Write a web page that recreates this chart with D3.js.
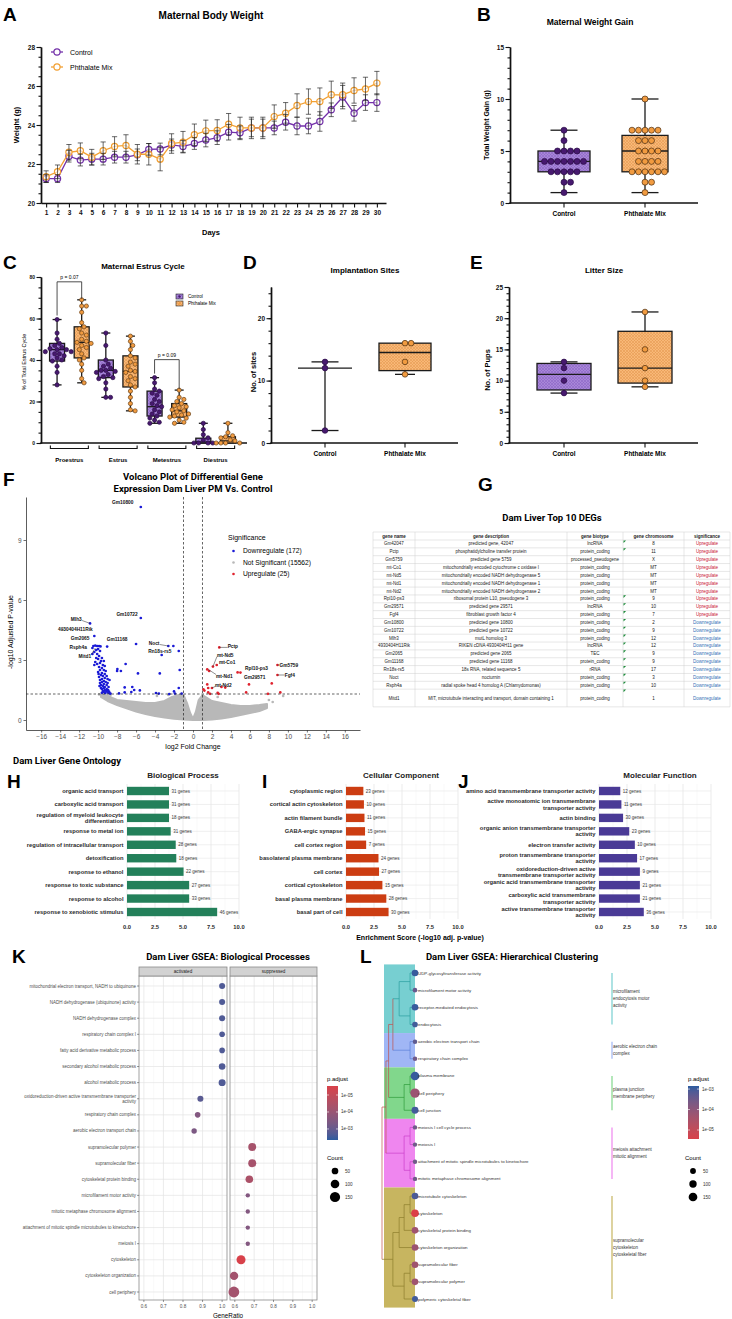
<!DOCTYPE html>
<html>
<head>
<meta charset="utf-8">
<script src="https://cdn.jsdelivr.net/npm/d3@7/dist/d3.min.js"></script>
<style>
  body { margin: 0; background: #fff; }
  svg { display: block; }
</style>
</head>
<body>
<div id="fig"></div>
<script>
// ---------- data ----------

// A: maternal body weight (mean and sem per day)
var days = [1,2,3,4,5,6,7,8,9,10,11,12,13,14,15,16,17,18,19,20,21,22,23,24,25,26,27,28,29,30];
var ctrlWeight = [21.25,21.25,22.4,22.2,22.25,22.25,22.35,22.35,22.47,22.75,22.77,22.98,22.9,23.05,23.23,23.35,23.63,23.6,23.85,23.85,23.85,24.14,23.95,23.95,24.18,24.78,25.43,24.6,25.15,25.15];
var ctrlSem = [0.2,0.2,0.3,0.3,0.3,0.3,0.3,0.3,0.3,0.3,0.3,0.3,0.3,0.3,0.35,0.35,0.4,0.35,0.45,0.45,0.35,0.4,0.45,0.4,0.5,0.35,0.6,0.4,0.4,0.45];
var pmWeight = [21.35,21.6,22.6,22.68,22.35,22.68,22.9,22.95,22.5,22.5,22.25,23.05,23.12,23.5,23.7,23.72,24.04,23.85,23.85,23.85,24.43,24.6,25.0,25.2,25.2,25.55,25.55,25.77,25.85,26.15];
var pmSem = [0.3,0.35,0.4,0.4,0.4,0.45,0.5,0.55,0.5,0.55,0.6,0.5,0.55,0.55,0.55,0.55,0.55,0.55,0.55,0.55,0.6,0.55,0.6,0.65,0.7,0.7,0.6,0.65,0.6,0.6];

// B: weight gain
var groups = ['Control', 'Phthalate Mix'];
var gainCtrl = [7,6,5,5,5,5,4,4,4,4,4,4,4,3,3,3,3,3,2,2,1];
var gainPm = [10,7,7,7,7,7,6,6,6,5,5,5,5,4,4,4,4,3,3,3,3,3,3,2,2,1];
var gainBoxCtrl = [1,3,4,5,7];      // min, q1, median, q3, max
var gainBoxPm = [1,3,5,6.5,10];

// C: estrus cycle
var phases = ['Proestrus', 'Estrus', 'Metestrus', 'Diestrus'];
var estrusCtrl = [
  [59.5,53,50,48,47,46,45.5,45,45,44,44,43,43,42,41,40,39.5,37,34,28],
  [53,47,40,38,37,36,35,35,34.5,34,33,32,31.5,31,29,26,22,22],
  [31.5,29,26,25,24,23,21,20,19,18,17.5,16,15,14,13,12,11,10,9.5],
  [9.5,6.5,4,2.5,1.5,0,0,0,0]
];
var estrusPm = [
  [69,66,66,63,58,56,55,53,52,50,49,48.5,48,47,46,45,43,41,40,38,35,31,29],
  [51.5,49,47,45,42,41,39,38,37,35,34.5,34,32,31,30,28,27,25,22,19,16,15.5],
  [25.5,22,21,20,19,18,17.5,17,16,15.5,15,14,13.5,13,12.5,12,11,10,9.5],
  [9.5,5,3.5,3,2.5,1.5,1,0,0,0,0]
];
var estrusBoxCtrl = [[28,39.5,45,48,59.5],[22,31.5,35,40,53],[9.5,13,17.5,25,31.5],[0,0,0.5,2.3,9.5]];
var estrusBoxPm = [[29,41,48.5,56,69],[15.5,27,34.5,42,51.5],[9.5,12.5,15.5,19,25.5],[0,0,1,3,9.5]];
var pLabels = [['p = 0.07', 0], ['p = 0.09', 2]];

// D: implantation sites, E: litter size
var implCtrl = [13,12,2];
var implPm = [16,16,13,11];
var implBoxCtrl = [2,2,12,13,13];
var implBoxPm = [11,11.6,14.5,16,16];
var pupsCtrl = [13,12,10,8];
var pupsPm = [21,15,12,10,9];
var pupsBoxCtrl = [8,8.5,11,12.75,13];
var pupsBoxPm = [9,9.6,12,17.9,21];

// F: volcano plot
var downPts = [[-5.5,10.65],[-5.5,5.1],[-10.85,4.83],[-10.4,4.2],[-6.0,3.8],[-9.05,3.67],[-2.6,3.7],[-2.07,3.7],
  [-3.3,3.25],[-1.5,3.45],[-7.1,2.8],[-7.97,2.55],[-8.0,2.45],[-7.6,2.45],[-5.8,2.33],[-3.5,2.33],[-1.4,2.5],
  [-8.8,2.0],[-7.2,1.63],[-6.4,1.65],[-6.2,1.5],[-7.8,1.33],[-7.2,1.38],[-6.5,1.4],[-5.6,1.48],[-3.9,1.35],
  [-3.6,1.32],[-2.5,1.3],[-2.0,1.43],[-1.9,1.32],[-1.5,1.6],[-1.2,1.32],
  [-10.5,3.7],[-10.3,3.72],[-10.1,3.7],[-9.9,3.7],[-9.75,3.68],[-10.0,3.55],[-10.2,3.5],[-9.8,3.45],[-10.4,3.4],
  [-10.6,3.3],[-10.1,3.3],[-9.9,3.2],[-9.6,3.1],[-10.0,3.05],[-9.7,2.95],[-9.4,2.95],[-9.8,2.85],[-10.1,2.8],
  [-9.5,2.75],[-9.3,2.7],[-9.9,2.65],[-9.6,2.6],[-9.8,2.5],[-9.4,2.5],[-9.2,2.45],[-10.0,2.4],[-9.6,2.35],
  [-9.3,2.3],[-9.7,2.25],[-9.5,2.2],[-9.1,2.2],[-9.9,2.15],[-9.3,2.1],[-9.6,2.05],[-9.0,2.05],[-9.8,2.0],
  [-9.4,1.95],[-9.2,1.9],[-9.6,1.9],[-9.0,1.85],[-9.8,1.85],[-9.4,1.8],[-9.7,1.75],[-9.1,1.75],[-9.5,1.7],
  [-9.3,1.65],[-8.9,1.65],[-9.7,1.6],[-9.4,1.6],[-9.1,1.55],[-9.6,1.55],[-8.95,1.5],[-9.3,1.5],[-9.5,1.45],
  [-9.15,1.45],[-8.85,1.42],[-9.4,1.4],[-9.0,1.38],[-9.25,1.35],[-8.8,1.34],[-9.6,1.36],[-8.7,1.32],
  [-10.4,2.75],[-10.2,3.1],[-10.6,3.6],[-10.3,2.9],[-9.95,2.3],[-9.85,1.7]];
var upPts = [[2.77,3.63],[2.1,2.67],[2.5,2.75],[1.5,2.53],[1.7,2.45],[4.7,2.38],[5.0,2.37],[8.9,2.75],[8.9,2.25],
  [5.9,1.78],[8.3,1.83],[3.4,1.62],[3.0,1.65],[1.5,1.78],[1.6,1.6],[1.1,1.53],[1.2,1.47],[2.0,1.6],[1.6,1.38],
  [2.6,1.36],[2.7,1.31],[5.6,1.38],[7.9,1.31],[9.2,1.38],[1.8,1.31]];
var nsUpper = [[-9.7,1.25],[-9.2,1.25],[-8.5,1.1],[-8,1.0],[-7,0.95],[-6,0.9],[-5,0.85],[-4,0.85],[-3,0.95],
  [-2.2,1.15],[-1.5,1.25],[-1.0,1.25],[-0.6,0.8],[-0.3,0.35],[0,0.05],[0.3,0.4],[0.6,1.0],[1.0,1.25],
  [1.5,1.1],[2,0.95],[3,0.85],[4,0.75],[5,0.7],[6,0.7],[7,0.75],[7.8,0.8]];
var nsLower = [[7.8,0.6],[7,0.45],[6,0.35],[5,0.25],[4,0.15],[3,0.08],[2,0.03],[1,0.0],[0,0],[-1,0.02],
  [-2,0.06],[-3,0.12],[-4,0.2],[-5,0.3],[-6,0.42],[-7,0.58],[-8,0.75],[-9,0.95],[-9.7,1.15]];
var nsPts = [[9.5,1.2],[-9.9,1.28],[8.0,1.0],[-8.7,1.25],[2.6,1.15],[-3.8,1.2],[-2.6,1.25],[8.4,0.9],[-8.9,1.15]];
var sigNames = ['Downregulate (172)', 'Not Significant (15562)', 'Upregulate (25)'];
// label text, label x, label y, point x, point y, draw segment
var volcanoLabels = [
  ['Gm10800',-7.4,10.9,-5.5,10.65,0],['Gm10722',-6.95,5.3,-5.5,5.1,0],['Mlh3',-12.3,5.05,-10.85,4.83,1],
  ['4930404H11Rik',-12.4,4.55,-10.5,4.4,0],['Gm2065',-11.9,4.1,-10.4,4.2,0],['Gm11168',-8.0,4.05,-6.0,3.8,0],
  ['Rsph4a',-12.1,3.65,-10.5,3.7,0],['Mitd1',-11.4,3.2,-10.3,3.6,1],['Noct',-4.1,3.85,-2.6,3.7,1],
  ['Rn18s-rs5',-3.5,3.45,-3.3,3.25,0],['Pctp',4.2,3.7,2.77,3.63,1],['mt-Nd5',3.4,3.25,2.1,2.67,1],
  ['mt-Co1',3.6,2.9,2.5,2.75,0],['Rpl10-ps3',6.7,2.6,4.7,2.38,0],['Gm5759',10.1,2.75,8.9,2.75,1],
  ['Fgf4',10.2,2.25,8.9,2.25,1],['Gm29571',6.5,2.15,5.2,2.3,0],['mt-Nd1',3.3,2.2,1.6,2.53,1],
  ['mt-Nd2',3.2,1.75,2.0,1.6,1]];

// G: top DEGs table
var degName = ['Gm42047','Pctp','Gm5759','mt-Co1','mt-Nd5','mt-Nd1','mt-Nd2','Rpl10-ps3','Gm29571','Fgf4','Gm10800','Gm10722','Mlh3','4930404H11Rik','Gm2065','Gm11168','Rn18s-rs5','Noct','Rsph4a','Mitd1'];
var degDesc = ['predicted gene, 42047','phosphatidylcholine transfer protein','predicted gene 5759','mitochondrially encoded cytochrome c oxidase I','mitochondrially encoded NADH dehydrogenase 5','mitochondrially encoded NADH dehydrogenase 1','mitochondrially encoded NADH dehydrogenase 2','ribosomal protein L10, pseudogene 3','predicted gene 29571','fibroblast growth factor 4','predicted gene 10800','predicted gene 10722','mutL homolog 3','RIKEN cDNA 4930404H11 gene','predicted gene 2065','predicted gene 11168','18s RNA, related sequence 5','nocturnin','radial spoke head 4 homolog A (Chlamydomonas)','MIT, microtubule interacting and transport, domain containing 1'];
var degType = ['lncRNA','protein_coding','processed_pseudogene','protein_coding','protein_coding','protein_coding','protein_coding','protein_coding','lncRNA','protein_coding','protein_coding','protein_coding','protein_coding','lncRNA','TEC','protein_coding','rRNA','protein_coding','protein_coding','protein_coding'];
var degChr = ['8','11','X','MT','MT','MT','MT','9','10','7','2','9','12','12','9','9','17','3','10','1'];
var degSig = ['Upregulate','Upregulate','Upregulate','Upregulate','Upregulate','Upregulate','Upregulate','Upregulate','Upregulate','Upregulate','Downregulate','Downregulate','Downregulate','Downregulate','Downregulate','Downregulate','Downregulate','Downregulate','Downregulate','Downregulate'];
var tableHeaders = ['gene name','gene description','gene biotype','gene chromosome','significance'];

// H, I, J: gene ontology enrichment
var bpTerms = ['organic acid transport','carboxylic acid transport','regulation of myeloid leukocyte\ndifferentiation','response to metal ion','regulation of intracellular transport','detoxification','response to ethanol','response to toxic substance','response to alcohol','response to xenobiotic stimulus'];
var bpScore = [3.75,3.75,3.75,3.9,4.35,4.4,5.05,5.55,5.55,8.05];
var bpGenes = [31,31,18,31,28,18,22,27,33,46];
var ccTerms = ['cytoplasmic region','cortical actin cytoskeleton','actin filament bundle','GABA-ergic synapse','cell cortex region','basolateral plasma membrane','cell cortex','cortical cytoskeleton','basal plasma membrane','basal part of cell'];
var ccScore = [1.55,1.6,1.65,1.7,1.8,2.9,2.95,3.25,3.6,3.8];
var ccGenes = [23,10,11,15,7,24,27,15,28,30];
var mfTerms = ['amino acid transmembrane transporter activity','active monoatomic ion transmembrane\ntransporter activity','actin binding','organic anion transmembrane transporter\nactivity','electron transfer activity','proton transmembrane transporter\nactivity','oxidoreduction-driven active\ntransmembrane transporter activity','organic acid transmembrane transporter\nactivity','carboxylic acid transmembrane\ntransporter activity','active transmembrane transporter\nactivity'];
var mfScore = [1.9,2.0,2.15,2.7,3.2,3.4,3.65,3.65,3.65,4.0];
var mfGenes = [12,11,30,23,10,17,9,21,21,36];
var goTicks = [0, 2.5, 5, 7.5, 10];

// K: GSEA dot plot
var kTerms = ['mitochondrial electron transport, NADH to ubiquinone','NADH dehydrogenase (ubiquinone) activity','NADH dehydrogenase complex','respiratory chain complex I','fatty acid derivative metabolic process','secondary alcohol metabolic process','alcohol metabolic process','oxidoreduction-driven active transmembrane transporter\nactivity','respiratory chain complex','aerobic electron transport chain','supramolecular polymer','supramolecular fiber','cytoskeletal protein binding','microfilament motor activity','mitotic metaphase chromosome alignment','attachment of mitotic spindle microtubules to kinetochore','meiosis I','cytoskeleton','cytoskeleton organization','cell periphery'];
var kFacet = ['activated','activated','activated','activated','activated','activated','activated','activated','activated','activated','suppressed','suppressed','suppressed','suppressed','suppressed','suppressed','suppressed','suppressed','suppressed','suppressed'];
var kRatio = [1,1,1,1,1,1,1,0.889,0.875,0.857,0.69,0.69,0.675,0.667,0.667,0.667,0.667,0.632,0.596,0.595];
var kCount = [36,36,36,28,28,48,57,36,28,24,82,82,72,8,8,8,8,111,93,170];
var kPadj = [2e-3,2e-3,2e-3,2e-3,2e-3,2e-3,2e-3,1.5e-3,3e-4,4e-4,5e-5,5e-5,4e-5,3e-4,3e-4,3e-4,3e-4,3e-6,6e-5,6e-5];
var ratioTicks = [0.6, 0.7, 0.8, 0.9, 1.0];

// L: hierarchical clustering of GSEA terms
var lTerms = ['UDP-glycosyltransferase activity','microfilament motor activity','receptor-mediated endocytosis','endocytosis','aerobic electron transport chain','respiratory chain complex','plasma membrane','cell periphery','cell junction','meiosis I cell cycle process','meiosis I','attachment of mitotic spindle microtubules to kinetochore','mitotic metaphase chromosome alignment','microtubule cytoskeleton','cytoskeleton','cytoskeletal protein binding','cytoskeleton organization','supramolecular fiber','supramolecular polymer','polymeric cytoskeletal fiber'];
var lCount = [73,19,73,45,17,17,146,181,86,15,15,15,15,73,107,73,73,73,73,55];
var lPadj = [1.2e-3,4e-4,1.2e-3,1e-3,5e-4,3e-4,1.2e-3,6e-5,1e-3,3e-4,3e-4,3e-4,3e-4,8e-4,3e-6,5e-5,6e-5,5e-5,5e-5,1e-3];
var lCluster = [0,0,0,0,1,1,2,2,2,3,3,3,3,4,4,4,4,4,4,4];
var lClusterNames = [['microfilament','endocytosis motor','activity'],['aerobic electron chain','complex'],['plasma junction','membrane periphery'],['meiosis attachment','mitotic alignment'],['supramolecular','cytoskeleton','cytoskeletal fiber']];
// merges: left, right, height
var lMerge = [['l0','l1',0.15],['l2','l3',0.15],['m0','m1',0.48],['l4','l5',0.15],['m2','m3',0.67],
  ['l6','l7',0.15],['m5','l8',0.33],['m4','m6',0.80],['l9','l10',0.15],['l11','l12',0.15],['m8','m9',0.33],
  ['m7','m10',0.88],['l13','l14',0.15],['m12','l15',0.33],['m13','l16',0.48],['l17','l18',0.15],
  ['m15','l19',0.33],['m14','m16',0.67],['m11','m17',1.0]];
var countLegend = [50, 100, 150];

// ---------- setup ----------
var FONT = '"Liberation Sans", Arial, Helvetica, sans-serif';
var ROBOTO = 'Roboto, "Liberation Sans", Arial, sans-serif';
var purple = '#7331a9', orange = '#f2a033';
var dotPurple = '#47196f', dotOrange = '#f19b40';
var RED = '#d8414a', BLUE = '#2d5c9f';

var svg = d3.select('#fig').append('svg')
  .attr('width', 732).attr('height', 1319)
  .attr('font-family', FONT);
svg.append('rect').attr('width', 732).attr('height', 1319).attr('fill', '#fff');
var defs = svg.append('defs');

function hatch(id, base, line) {
  var p = defs.append('pattern').attr('id', id).attr('patternUnits', 'userSpaceOnUse')
    .attr('width', 3).attr('height', 3);
  p.append('rect').attr('width', 3).attr('height', 3).attr('fill', base);
  p.append('path').attr('d', 'M0,0L3,3M3,0L0,3').attr('stroke', line).attr('stroke-width', 0.6);
}
hatch('hatchP', '#a886d8', '#8c67c6');
hatch('hatchO', '#f8b877', '#e69a52');

function addText(g, x, y, s, size, o) {
  o = o || {};
  var t = g.append('text').attr('x', x).attr('y', y)
    .attr('font-size', size)
    .attr('font-weight', o.weight || 'normal')
    .attr('text-anchor', o.anchor || 'start')
    .attr('fill', o.fill || '#000')
    .text(s);
  if (o.base) t.attr('dominant-baseline', o.base);
  if (o.family) t.attr('font-family', o.family);
  if (o.rotate) t.attr('transform', 'rotate(' + o.rotate + ',' + x + ',' + y + ')');
  return t;
}

function multiLine(g, x, yc, s, size, lh, o) {
  var lines = s.split('\n');
  lines.forEach(function (ln, i) {
    addText(g, x, yc + (i - (lines.length - 1) / 2) * lh, ln, size, Object.assign({ base: 'central' }, o));
  });
}

function styleAxis(a, size, weight, color) {
  a.attr('font-family', FONT).attr('font-size', size).attr('font-weight', weight || 'bold');
  a.select('.domain').attr('stroke', color || '#111').attr('stroke-width', 1.4);
  a.selectAll('.tick line').attr('stroke', color || '#111').attr('stroke-width', 1.1);
  a.selectAll('.tick text').attr('fill', '#111');
}

function prismAxisY(g, y, x, major, minor, size) {
  var m = g.append('g').attr('transform', 'translate(' + x + ',0)')
    .call(d3.axisLeft(y).tickValues(minor).tickSize(2.5).tickSizeOuter(0).tickFormat(''));
  styleAxis(m, size);
  var a = g.append('g').attr('transform', 'translate(' + x + ',0)')
    .call(d3.axisLeft(y).tickValues(major).tickSize(4.5).tickSizeOuter(0).tickPadding(1.5));
  styleAxis(a, size);
}

function catAxisX(g, yPix, x0, x1, xs, size) {
  g.append('line').attr('x1', x0 - 0.7).attr('x2', x1).attr('y1', yPix).attr('y2', yPix)
    .attr('stroke', '#111').attr('stroke-width', 1.4);
  xs.domain().forEach(function (d) {
    g.append('line').attr('x1', xs(d)).attr('x2', xs(d)).attr('y1', yPix).attr('y2', yPix + 4.5)
      .attr('stroke', '#111').attr('stroke-width', 1.1);
    addText(g, xs(d), yPix + 13, d, size, { weight: 'bold', anchor: 'middle' });
  });
}

// box: st = [min, q1, median, q3, max]
function drawBox(g, y, cx, w, capW, st, fill, noBox) {
  var s = '#1b1b1b', sw = 1.3;
  g.append('line').attr('x1', cx).attr('x2', cx).attr('y1', y(st[0])).attr('y2', y(st[4]))
    .attr('stroke', s).attr('stroke-width', sw);
  if (noBox || st[0] < st[1]) {
    g.append('line').attr('x1', cx - capW / 2).attr('x2', cx + capW / 2).attr('y1', y(st[0])).attr('y2', y(st[0]))
      .attr('stroke', s).attr('stroke-width', sw);
  }
  if (noBox || st[4] > st[3]) {
    g.append('line').attr('x1', cx - capW / 2).attr('x2', cx + capW / 2).attr('y1', y(st[4])).attr('y2', y(st[4]))
      .attr('stroke', s).attr('stroke-width', sw);
  }
  if (!noBox) {
    g.append('rect').attr('x', cx - w / 2).attr('y', y(st[3])).attr('width', w)
      .attr('height', y(st[1]) - y(st[3])).attr('fill', 'url(#' + fill + ')')
      .attr('stroke', s).attr('stroke-width', sw);
  }
  g.append('line').attr('x1', cx - w / 2).attr('x2', cx + w / 2).attr('y1', y(st[2])).attr('y2', y(st[2]))
    .attr('stroke', s).attr('stroke-width', sw);
}

// simple deterministic beeswarm
function swarm(vals, y, r) {
  var pts = vals.map(function (v) { return { v: v, py: y(v), dx: 0 }; });
  pts.sort(function (a, b) { return a.py - b.py; });
  var placed = [], d = 2 * r + 0.5;
  pts.forEach(function (p) {
    for (var k = 0; k < 60; k++) {
      var off = (k % 2 ? 1 : -1) * Math.ceil(k / 2) * d / 2;
      var ok = placed.every(function (q) {
        var dx = q.dx - off, dy = q.py - p.py;
        return dx * dx + dy * dy >= d * d * 0.92;
      });
      if (ok) { p.dx = off; break; }
    }
    placed.push(p);
  });
  return pts;
}

function drawDots(g, y, cx, vals, r, fill, stroke) {
  g.selectAll(null).data(swarm(vals, y, r)).enter().append('circle')
    .attr('cx', function (p) { return cx + p.dx; })
    .attr('cy', function (p) { return p.py; })
    .attr('r', r).attr('fill', fill).attr('stroke', stroke).attr('stroke-width', 0.7);
}

function letter(s, x, y) {
  addText(svg, x, y, s, 19, { weight: 'bold' });
}

// ---------- A: maternal body weight ----------
var gA = svg.append('g');
var ax = d3.scaleLinear().domain([0.55, 30.8]).range([41, 386]);
var ay = d3.scaleLinear().domain([20, 28]).range([203, 47]);
letter('A', 3, 21);
addText(gA, 211, 19, 'Maternal Body Weight', 10, { weight: 'bold', anchor: 'middle' });
prismAxisY(gA, ay, 41, [20, 22, 24, 26, 28], d3.range(20, 28.01, 0.5), 6.5);
var axX = gA.append('g').attr('transform', 'translate(0,203)')
  .call(d3.axisBottom(ax).tickValues(days).tickSize(4.5).tickSizeOuter(0).tickPadding(2.5));
styleAxis(axX, 6.5);
addText(gA, 19, 125, 'Weight (g)', 7.5, { weight: 'bold', anchor: 'middle', rotate: -90 });
addText(gA, 211, 235, 'Days', 7.5, { weight: 'bold', anchor: 'middle' });

var series = [
  { name: 'Control', mean: ctrlWeight, sem: ctrlSem, color: purple },
  { name: 'Phthalate Mix', mean: pmWeight, sem: pmSem, color: orange }
];
var wLine = d3.line().x(function (d, i) { return ax(days[i]); }).y(function (d) { return ay(d); });
series.forEach(function (s) {
  gA.append('path').datum(s.mean).attr('d', wLine).attr('fill', 'none')
    .attr('stroke', s.color).attr('stroke-width', 1.3);
  gA.selectAll(null).data(s.mean).enter().append('circle')
    .attr('cx', function (d, i) { return ax(days[i]); })
    .attr('cy', function (d) { return ay(d); })
    .attr('r', 3.1).attr('fill', '#fff').attr('fill-opacity', 0.6)
    .attr('stroke', s.color).attr('stroke-width', 1.2);
});
series.forEach(function (s) {
  s.mean.forEach(function (m, i) {
    var x = ax(days[i]), y1 = ay(m - s.sem[i]), y2 = ay(m + s.sem[i]);
    gA.append('path').attr('d', 'M' + x + ',' + y1 + 'V' + y2 + 'M' + (x - 2.6) + ',' + y1 + 'h5.2M' + (x - 2.6) + ',' + y2 + 'h5.2')
      .attr('stroke', '#222').attr('stroke-width', 0.85).attr('fill', 'none').attr('opacity', 0.8);
  });
});
series.forEach(function (s, i) {
  var y = 52 + i * 15;
  gA.append('line').attr('x1', 51).attr('x2', 63).attr('y1', y).attr('y2', y).attr('stroke', s.color).attr('stroke-width', 1.3);
  gA.append('circle').attr('cx', 57).attr('cy', y).attr('r', 3.1).attr('fill', '#fff').attr('stroke', s.color).attr('stroke-width', 1.2);
  addText(gA, 70, y + 2.5, s.name, 7);
});

// ---------- B: weight gain ----------
var gB = svg.append('g');
var by = d3.scaleLinear().domain([0, 15]).range([203, 47]);
var bx = d3.scalePoint().domain(groups).range([564, 645]);
letter('B', 477, 21);
addText(gB, 590, 25, 'Maternal Weight Gain', 8.5, { weight: 'bold', anchor: 'middle' });
prismAxisY(gB, by, 510, [0, 5, 10, 15], d3.range(0, 15.01, 1), 6.5);
catAxisX(gB, 203, 510, 698, bx, 6.5);
addText(gB, 489, 125, 'Total Weight Gain (g)', 7, { weight: 'bold', anchor: 'middle', rotate: -90 });
drawBox(gB, by, bx('Control'), 52, 27, gainBoxCtrl, 'hatchP');
drawBox(gB, by, bx('Phthalate Mix'), 46, 27, gainBoxPm, 'hatchO');
drawDots(gB, by, bx('Control'), gainCtrl, 3, dotPurple, '#2a0b45');
drawDots(gB, by, bx('Phthalate Mix'), gainPm, 3, dotOrange, '#4a2c10');

// ---------- C: estrus cycle ----------
var gC = svg.append('g');
var cy = d3.scaleLinear().domain([0, 80]).range([443, 277]);
var cBand = d3.scaleBand().domain(phases).range([45, 240]);
letter('C', 3, 269);
addText(gC, 143, 269, 'Maternal Estrus Cycle', 8, { weight: 'bold', anchor: 'middle' });
prismAxisY(gC, cy, 41, [0, 20, 40, 60, 80], d3.range(0, 80.1, 5), 5);
gC.append('line').attr('x1', 40.3).attr('x2', 247).attr('y1', 443).attr('y2', 443).attr('stroke', '#111').attr('stroke-width', 1.4);
addText(gC, 26, 362, '% of Total Estrus Cycle', 5.5, { anchor: 'middle', rotate: -90 });
phases.forEach(function (p, i) {
  var c = cBand(p) + cBand.bandwidth() / 2;
  drawBox(gC, cy, c - 12.3, 15, 9, estrusBoxCtrl[i], 'hatchP');
  drawBox(gC, cy, c + 12.3, 15, 9, estrusBoxPm[i], 'hatchO');
  drawDots(gC, cy, c - 12.3, estrusCtrl[i], 2.1, dotPurple, '#2a0b45');
  drawDots(gC, cy, c + 12.3, estrusPm[i], 2.1, dotOrange, '#6a4218');
  gC.append('path').attr('d', 'M' + (c - 19) + ',445.5V448.5H' + (c + 19) + 'V445.5')
    .attr('fill', 'none').attr('stroke', '#111').attr('stroke-width', 1.1);
  addText(gC, c, 462, p, 6, { weight: 'bold', anchor: 'middle' });
});
pLabels.forEach(function (pl) {
  var i = pl[1], c = cBand(phases[i]) + cBand.bandwidth() / 2;
  var top = cy(Math.max(estrusBoxCtrl[i][4], estrusBoxPm[i][4])) - 18;
  gC.append('path').attr('d', 'M' + (c - 12.3) + ',' + (cy(estrusBoxCtrl[i][4]) - 4) + 'V' + top + 'H' + (c + 12.3) + 'V' + (cy(estrusBoxPm[i][4]) - 1))
    .attr('fill', 'none').attr('stroke', '#222').attr('stroke-width', 0.8);
  addText(gC, c, top - 3, pl[0], 5, { anchor: 'middle' });
});
groups.forEach(function (gname, i) {
  var y = 294 + i * 7;
  gC.append('rect').attr('x', 176).attr('y', y).attr('width', 7).attr('height', 5)
    .attr('fill', i ? 'url(#hatchO)' : 'url(#hatchP)').attr('stroke', '#222').attr('stroke-width', 0.6);
  gC.append('circle').attr('cx', 179.5).attr('cy', y + 2.5).attr('r', 1.2).attr('fill', i ? dotOrange : dotPurple);
  addText(gC, 188, y + 4.3, gname, 4.6);
});

// ---------- D: implantation sites ----------
var gD = svg.append('g');
var dy = d3.scaleLinear().domain([0, 25]).range([443, 287]);
var dx = d3.scalePoint().domain(groups).range([325, 405]);
letter('D', 243, 269);
addText(gD, 365, 273, 'Implantation Sites', 8, { weight: 'bold', anchor: 'middle' });
prismAxisY(gD, dy, 271, [0, 10, 20], d3.range(0, 25, 2), 6.5);
catAxisX(gD, 443, 271, 458, dx, 6.5);
addText(gD, 256, 372, 'No. of sites', 7.5, { weight: 'bold', anchor: 'middle', rotate: -90 });
drawBox(gD, dy, dx('Control'), 54, 27, implBoxCtrl, 'hatchP', true);
drawBox(gD, dy, dx('Phthalate Mix'), 52, 20, implBoxPm, 'hatchO');
drawDots(gD, dy, dx('Control'), implCtrl, 2.8, dotPurple, '#2a0b45');
drawDots(gD, dy, dx('Phthalate Mix'), implPm, 2.8, dotOrange, '#4a2c10');

// ---------- E: litter size ----------
var gE = svg.append('g');
var ey = d3.scaleLinear().domain([0, 25]).range([443, 287]);
var ex = d3.scalePoint().domain(groups).range([564, 645]);
letter('E', 470, 269);
addText(gE, 604, 273, 'Litter Size', 8, { weight: 'bold', anchor: 'middle' });
prismAxisY(gE, ey, 509, [0, 5, 10, 15, 20, 25], d3.range(0, 25.01, 1), 6.5);
catAxisX(gE, 443, 509, 698, ex, 6.5);
addText(gE, 490, 370, 'No. of Pups', 7.5, { weight: 'bold', anchor: 'middle', rotate: -90 });
drawBox(gE, ey, ex('Control'), 54, 27, pupsBoxCtrl, 'hatchP');
drawBox(gE, ey, ex('Phthalate Mix'), 54, 27, pupsBoxPm, 'hatchO');
drawDots(gE, ey, ex('Control'), pupsCtrl, 2.8, dotPurple, '#2a0b45');
drawDots(gE, ey, ex('Phthalate Mix'), pupsPm, 2.8, dotOrange, '#4a2c10');

// ---------- F: volcano ----------
var gF = svg.append('g');
var vx = d3.scaleLinear().domain([-17.6, 17.6]).range([26, 360]);
var vy = d3.scaleLinear().domain([-0.5, 11.15]).range([730, 497]);
letter('F', 3, 486);
addText(gF, 193, 480, 'Volcano Plot of Differential Gene', 9.5, { weight: 'bold', anchor: 'middle', family: ROBOTO });
addText(gF, 193, 492, 'Expression Dam Liver PM Vs. Control', 9.5, { weight: 'bold', anchor: 'middle', family: ROBOTO });
var vline = d3.line().x(function (d) { return vx(d[0]); }).y(function (d) { return vy(d[1]); }).curve(d3.curveLinearClosed);
gF.append('path').datum(nsUpper.concat(nsLower)).attr('d', vline)
  .attr('fill', '#b8b8b8').attr('stroke', '#b8b8b8').attr('stroke-width', 2).attr('stroke-linejoin', 'round');
function vDots(pts, col) {
  gF.selectAll(null).data(pts).enter().append('circle')
    .attr('cx', function (d) { return vx(d[0]); }).attr('cy', function (d) { return vy(d[1]); })
    .attr('r', 1.35).attr('fill', col);
}
vDots(nsPts, '#b8b8b8');
vDots(downPts, '#1a1ad6');
vDots(upPts, '#e0222e');
[-1, 1].forEach(function (v) {
  gF.append('line').attr('x1', vx(v)).attr('x2', vx(v)).attr('y1', 497).attr('y2', 730)
    .attr('stroke', '#222').attr('stroke-width', 0.7).attr('stroke-dasharray', '2.5,2');
});
gF.append('line').attr('x1', 26).attr('x2', 360).attr('y1', vy(1.3)).attr('y2', vy(1.3))
  .attr('stroke', '#222').attr('stroke-width', 0.7).attr('stroke-dasharray', '2.5,2');
var fyAx = gF.append('g').attr('transform', 'translate(26,0)')
  .call(d3.axisLeft(vy).tickValues([0, 3, 6, 9]).tickSize(2.5).tickSizeOuter(0).tickPadding(2));
var fxAx = gF.append('g').attr('transform', 'translate(0,730)')
  .call(d3.axisBottom(vx).tickValues(d3.range(-16, 16.1, 2)).tickSize(2.5).tickSizeOuter(0).tickPadding(2));
[fyAx, fxAx].forEach(function (a) {
  a.attr('font-family', FONT).attr('font-size', 6.5);
  a.select('.domain').attr('stroke', '#333').attr('stroke-width', 0.8);
  a.selectAll('.tick line').attr('stroke', '#333').attr('stroke-width', 0.7);
  a.selectAll('.tick text').attr('fill', '#4d4d4d');
});
addText(gF, 193, 749, 'log2 Fold Change', 7, { anchor: 'middle' });
addText(gF, 13, 632, '-log10 Adjusted P-value', 7, { anchor: 'middle', rotate: -90 });
addText(gF, 228, 540, 'Significance', 7);
['#1a1ad6', '#b8b8b8', '#e0222e'].forEach(function (c, i) {
  var y = 551 + i * 11.5;
  gF.append('circle').attr('cx', 233.5).attr('cy', y).attr('r', 1.3).attr('fill', c);
  addText(gF, 243, y + 2.3, sigNames[i], 6.7);
});
volcanoLabels.forEach(function (l) {
  var t = addText(gF, vx(l[1]), vy(l[2]), l[0], 4.8, { weight: 'bold', anchor: 'middle', base: 'central', fill: '#111' });
  if (l[5]) {
    var bb = t.node().getBBox();
    var px = vx(l[3]), py = vy(l[4]);
    var sx = Math.max(bb.x, Math.min(px, bb.x + bb.width));
    var sy = Math.max(bb.y + 1, Math.min(py, bb.y + bb.height - 1));
    gF.append('line').attr('x1', sx).attr('y1', sy).attr('x2', px).attr('y2', py)
      .attr('stroke', '#222').attr('stroke-width', 0.5);
  }
});

// ---------- G: table ----------
var gG = svg.append('g');
letter('G', 478, 491);
addText(gG, 552, 521, 'Dam Liver Top 10 DEGs', 9.5, { weight: 'bold', anchor: 'middle', family: ROBOTO });
var colX = [373, 415, 567, 623, 684, 730];
var rowEdges = [532, 540];
degName.forEach(function (d, i) { rowEdges.push(rowEdges[rowEdges.length - 1] + (i === degName.length - 1 ? 17.7 : 7.85)); });
rowEdges.forEach(function (y) {
  gG.append('line').attr('x1', colX[0]).attr('x2', colX[5]).attr('y1', y).attr('y2', y).attr('stroke', '#cfcfcf').attr('stroke-width', 0.5);
});
colX.forEach(function (x) {
  gG.append('line').attr('x1', x).attr('x2', x).attr('y1', rowEdges[0]).attr('y2', rowEdges[rowEdges.length - 1]).attr('stroke', '#cfcfcf').attr('stroke-width', 0.5);
});
function cellMid(c) { return (colX[c] + colX[c + 1]) / 2; }
tableHeaders.forEach(function (h, c) {
  addText(gG, cellMid(c), 536.2, h, 4.5, { weight: 'bold', anchor: 'middle', base: 'central', fill: '#222' });
});
degName.forEach(function (n, i) {
  var yc = (rowEdges[i + 1] + rowEdges[i + 2]) / 2;
  var cells = [n, degDesc[i], degType[i], degChr[i], degSig[i]];
  cells.forEach(function (s, c) {
    var col = '#222';
    if (c === 4) col = s === 'Upregulate' ? '#c8102e' : '#2f6db5';
    addText(gG, cellMid(c), yc, s, 4.5, { anchor: 'middle', base: 'central', fill: col });
  });
  if (/^\d+$/.test(degChr[i])) {
    var t = rowEdges[i + 1] + 0.4;
    gG.append('path').attr('d', 'M' + (colX[3] + 0.5) + ',' + t + 'h2.6L' + (colX[3] + 0.5) + ',' + (t + 2.6) + 'Z').attr('fill', '#1d8a3a');
  }
});

// ---------- H, I, J: GO bars ----------
addText(svg, 13, 764, 'Dam Liver Gene Ontology', 9.5, { weight: 'bold', family: ROBOTO });
letter('H', 7, 788);
letter('I', 262, 788);
letter('J', 458, 788);
function goPanel(terms, scores, genes, x0, color, title, titleX) {
  var g = svg.append('g');
  var x = d3.scaleLinear().domain([0, 10]).range([x0, x0 + 112]);
  var y = d3.scalePoint().domain(d3.range(terms.length)).range([791, 912]);
  d3.range(0, 10.01, 1.25).forEach(function (v, i) {
    g.append('line').attr('x1', x(v)).attr('x2', x(v)).attr('y1', 784).attr('y2', 919)
      .attr('stroke', i % 2 ? '#f2f2f2' : '#e3e3e3').attr('stroke-width', i % 2 ? 0.5 : 0.7);
  });
  terms.forEach(function (t, i) {
    g.append('line').attr('x1', x0).attr('x2', x0 + 112).attr('y1', y(i)).attr('y2', y(i)).attr('stroke', '#e6e6e6').attr('stroke-width', 0.6);
  });
  g.selectAll(null).data(scores).enter().append('rect')
    .attr('x', x(0)).attr('y', function (d, i) { return y(i) - 4.2; })
    .attr('width', function (d) { return x(d) - x(0); }).attr('height', 8.4)
    .attr('fill', color);
  terms.forEach(function (t, i) {
    multiLine(g, x0 - 3.5, y(i), t, 5.8, 6.2, { weight: 'bold', anchor: 'end', fill: '#2b2b2b' });
    addText(g, x(scores[i]) + 2.5, y(i), genes[i] + ' genes', 4.5, { base: 'central', fill: '#3a3a3a' });
  });
  goTicks.forEach(function (v) {
    addText(g, x(v), 929, d3.format('.1f')(v), 5.8, { weight: 'bold', anchor: 'middle', fill: '#2b2b2b' });
  });
  addText(g, titleX, 778, title, 8, { weight: 'bold', anchor: 'middle', fill: '#222' });
}
goPanel(bpTerms, bpScore, bpGenes, 127, '#23805a', 'Biological Process', 183);
goPanel(ccTerms, ccScore, ccGenes, 346, '#cc3d12', 'Cellular Component', 401);
goPanel(mfTerms, mfScore, mfGenes, 599, '#4a3a96', 'Molecular Function', 660);
addText(svg, 420, 940, 'Enrichment Score (-log10 adj. p-value)', 7, { weight: 'bold', anchor: 'middle' });

// ---------- K: GSEA dot plot ----------
var gK = svg.append('g');
letter('K', 12, 963);
addText(gK, 228, 960, 'Dam Liver GSEA: Biological Processes', 9.5, { weight: 'bold', anchor: 'middle', family: ROBOTO });
var kColor = d3.scaleLinear().domain([-5.53, -2.35]).range([RED, BLUE]).interpolate(d3.interpolateLab);
var kSize = d3.scaleLinear().domain([8, 170]).range([2.2 * 2.2, 5.4 * 5.4]);
var ky = d3.scalePoint().domain(d3.range(kTerms.length)).range([986, 1292]);
var facets = [
  { name: 'activated', x: d3.scaleLinear().domain([0.575, 1.025]).range([139, 227]) },
  { name: 'suppressed', x: d3.scaleLinear().domain([0.575, 1.025]).range([230, 317]) }
];
facets.forEach(function (f) {
  var r = f.x.range();
  gK.append('rect').attr('x', r[0]).attr('y', 976).attr('width', r[1] - r[0]).attr('height', 324).attr('fill', '#fff');
  [0.625, 0.65, 0.675, 0.7, 0.725, 0.75, 0.775, 0.8, 0.825, 0.85, 0.875, 0.9, 0.925, 0.95, 0.975, 1.0].forEach(function (v) {
    var major = ratioTicks.some(function (t) { return Math.abs(t - v) < 1e-6; });
    var mid = Math.abs((v * 20) - Math.round(v * 20)) < 1e-6;
    if (!major && !mid) return;
    gK.append('line').attr('x1', f.x(v)).attr('x2', f.x(v)).attr('y1', 976).attr('y2', 1300)
      .attr('stroke', major ? '#e4e4e4' : '#f2f2f2').attr('stroke-width', major ? 0.7 : 0.5);
  });
  gK.append('line').attr('x1', f.x(0.6)).attr('x2', f.x(0.6)).attr('y1', 976).attr('y2', 1300).attr('stroke', '#e4e4e4').attr('stroke-width', 0.7);
  kTerms.forEach(function (t, i) {
    gK.append('line').attr('x1', r[0]).attr('x2', r[1]).attr('y1', ky(i)).attr('y2', ky(i)).attr('stroke', '#e4e4e4').attr('stroke-width', 0.7);
  });
  gK.append('rect').attr('x', r[0]).attr('y', 976).attr('width', r[1] - r[0]).attr('height', 324)
    .attr('fill', 'none').attr('stroke', '#8a8a8a').attr('stroke-width', 0.8);
  gK.append('rect').attr('x', r[0]).attr('y', 967).attr('width', r[1] - r[0]).attr('height', 9)
    .attr('fill', '#d2d2d2').attr('stroke', '#8a8a8a').attr('stroke-width', 0.8);
  addText(gK, (r[0] + r[1]) / 2, 971.7, f.name, 4.6, { anchor: 'middle', base: 'central', fill: '#1a1a1a' });
  ratioTicks.forEach(function (v) {
    gK.append('line').attr('x1', f.x(v)).attr('x2', f.x(v)).attr('y1', 1300).attr('y2', 1302).attr('stroke', '#333').attr('stroke-width', 0.5);
    addText(gK, f.x(v), 1307.5, d3.format('.1f')(v), 4.6, { anchor: 'middle', fill: '#4d4d4d' });
  });
  var pts = kTerms.map(function (t, i) { return i; }).filter(function (i) { return kFacet[i] === f.name; });
  gK.selectAll(null).data(pts).enter().append('circle')
    .attr('cx', function (i) { return f.x(kRatio[i]); })
    .attr('cy', function (i) { return ky(i); })
    .attr('r', function (i) { return Math.sqrt(kSize(kCount[i])); })
    .attr('fill', function (i) { return kColor(Math.log10(kPadj[i])); });
});
kTerms.forEach(function (t, i) {
  gK.append('line').attr('x1', 137).attr('x2', 139).attr('y1', ky(i)).attr('y2', ky(i)).attr('stroke', '#333').attr('stroke-width', 0.5);
  multiLine(gK, 136, ky(i), t, 4.5, 5, { anchor: 'end', fill: '#4d4d4d' });
});
addText(gK, 228, 1318, 'GeneRatio', 6.3, { anchor: 'middle' });

function colorbar(g, id, x, y0, y1, topVal, botVal, color, tickVals) {
  var grad = defs.append('linearGradient').attr('id', id).attr('x1', 0).attr('x2', 0).attr('y1', 0).attr('y2', 1);
  d3.range(0, 1.001, 0.1).forEach(function (t) {
    grad.append('stop').attr('offset', t).attr('stop-color', color(topVal + t * (botVal - topVal)));
  });
  g.append('rect').attr('x', x).attr('y', y0).attr('width', 11).attr('height', y1 - y0).attr('fill', 'url(#' + id + ')');
  var pos = d3.scaleLinear().domain([topVal, botVal]).range([y0, y1]);
  tickVals.forEach(function (v) {
    var y = pos(v);
    g.append('path').attr('d', 'M' + x + ',' + y + 'h2M' + (x + 9) + ',' + y + 'h2').attr('stroke', '#fff').attr('stroke-width', 0.6);
    addText(g, x + 14, y, '1e-0' + (-v), 4.6, { base: 'central', fill: '#333' });
  });
}
function sizeLegend(g, x, y, radius) {
  addText(g, x - 8, y, 'Count', 6);
  countLegend.forEach(function (c, i) {
    var cy0 = y + 11 + i * 13;
    g.append('circle').attr('cx', x).attr('cy', cy0).attr('r', radius(c)).attr('fill', '#000');
    addText(g, x + 10, cy0, c, 4.6, { base: 'central', fill: '#333' });
  });
}
addText(gK, 327, 1081, 'p.adjust', 6);
colorbar(gK, 'kGrad', 327, 1086, 1140, -5.53, -2.35, kColor, [-5, -4, -3]);
sizeLegend(gK, 335, 1160, function (c) { return Math.sqrt(kSize(c)); });

// ---------- L: hierarchical clustering ----------
var gL = svg.append('g');
letter('L', 360, 963);
addText(gL, 512, 960, 'Dam Liver GSEA: Hierarchical Clustering', 9.5, { weight: 'bold', anchor: 'middle', family: ROBOTO });
var clFill = ['#77cfd1', '#a0b6f5', '#81d78c', '#ef86ef', '#c7b560'];
var clLine = ['#2b9fa0', '#5b80d8', '#2f9c3b', '#cc3fcc', '#8e7e2d'];
var rootLine = '#c0504d';
var lColor = d3.scaleLinear().domain([-5.44, -2.85]).range([RED, BLUE]).interpolate(d3.interpolateLab);
var lSize = d3.scaleLinear().domain([15, 190]).range([2.2 * 2.2, 4.8 * 4.8]);
var lx = d3.scaleLinear().domain([0, 1]).range([415, 382]);
var ly = d3.scalePoint().domain(d3.range(lTerms.length)).range([973, 1299]);
var lStep = ly.step();
lClusterNames.forEach(function (names, c) {
  var idx = lCluster.map(function (v, i) { return v === c ? i : -1; }).filter(function (i) { return i >= 0; });
  var top = ly(idx[0]), bot = ly(idx[idx.length - 1]);
  gL.append('rect').attr('x', 384).attr('y', top - lStep / 2).attr('width', 31).attr('height', bot - top + lStep)
    .attr('fill', clFill[c]);
  gL.append('line').attr('x1', 612).attr('x2', 612).attr('y1', top).attr('y2', bot).attr('stroke', clFill[c]).attr('stroke-width', 1.2);
  var mid = (top + bot) / 2;
  names.forEach(function (n, k) {
    addText(gL, 613, mid + (k - (names.length - 1) / 2) * 7, n, 4.5, { base: 'central', fill: '#333' });
  });
});
var nodes = {};
lTerms.forEach(function (t, i) { nodes['l' + i] = { x: lx(0), y: ly(i), cl: lCluster[i] }; });
lMerge.forEach(function (m, i) {
  var a = nodes[m[0]], b = nodes[m[1]];
  var n = { x: lx(m[2]), y: (a.y + b.y) / 2, cl: a.cl === b.cl ? a.cl : -1 };
  nodes['m' + i] = n;
  function col(nd) { return nd.cl < 0 ? rootLine : clLine[nd.cl]; }
  gL.append('line').attr('x1', n.x).attr('x2', a.x).attr('y1', a.y).attr('y2', a.y).attr('stroke', col(a)).attr('stroke-width', 0.7);
  gL.append('line').attr('x1', n.x).attr('x2', b.x).attr('y1', b.y).attr('y2', b.y).attr('stroke', col(b)).attr('stroke-width', 0.7);
  gL.append('line').attr('x1', n.x).attr('x2', n.x).attr('y1', a.y).attr('y2', b.y).attr('stroke', col(n)).attr('stroke-width', 0.7);
});
gL.selectAll(null).data(lTerms).enter().append('circle')
  .attr('cx', 415).attr('cy', function (d, i) { return ly(i); })
  .attr('r', function (d, i) { return Math.sqrt(lSize(lCount[i])); })
  .attr('fill', function (d, i) { return lColor(Math.log10(lPadj[i])); });
lTerms.forEach(function (t, i) {
  addText(gL, 418, ly(i), t, 4.4, { base: 'central', fill: '#333' });
});
addText(gL, 688, 1081, 'p.adjust', 6);
colorbar(gL, 'lGrad', 688, 1086, 1139, -2.85, -5.44, lColor, [-3, -4, -5]);
sizeLegend(gL, 693, 1160, function (c) { return Math.sqrt(lSize(c)); });
</script>
</body>
</html>
